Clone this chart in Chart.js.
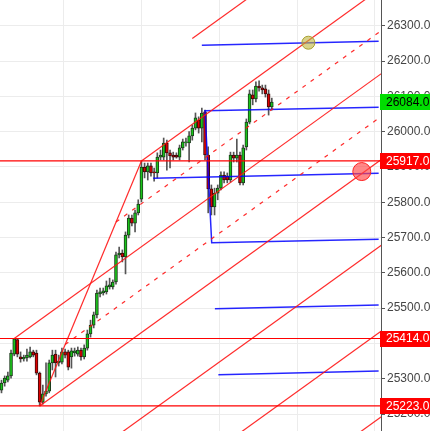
<!DOCTYPE html>
<html lang="en">
<head>
<meta charset="UTF-8" />
<title>Pitchfork chart</title>
<script src="https://cdn.jsdelivr.net/npm/chart.js"></script>
<style>
  body { margin: 0; background: #fff; }
  #wrap { width: 438px; height: 431px; }
</style>
</head>
<body>
<div id="wrap"><canvas id="chart" width="438" height="431"></canvas></div>
<script>
// candles, left to right (one per bar index)
const candleOpen = [25268,25288,25296,25308,25370,25411,25362,25356,25359,25362,25376,25373,25316,25234,25257,25265,25345,25370,25345,25347,
  25376,25376,25362,25373,25370,25381,25362,25387,25427,25452,25481,25540,25543,25546,25560,25560,25574,25651,25656,25645,
  25707,25755,25741,25770,25809,25900,25886,25903,25886,25883,25928,25928,25968,25940,25934,25934,25928,25954,25968,25968,
  25988,26010,26033,26010,26056,25934,25838,25787,25826,25840,25877,25874,25863,25934,25925,25934,25855,25957,26027,26104,
  26093,26129,26124,26121,26107,26070];
const candleHigh = [25296,25308,25319,25381,25414,25413,25376,25367,25384,25390,25381,25381,25319,25282,25345,25353,25381,25381,25367,25387,
  25384,25381,25387,25387,25390,25387,25396,25438,25466,25489,25551,25557,25557,25577,25585,25580,25659,25673,25665,25716,
  25764,25764,25778,25807,25917,25911,25911,25911,25897,25940,25948,25982,25976,25948,25942,25940,25962,25979,25982,26000,
  26019,26053,26042,26067,26061,25957,25849,25840,25849,25886,25886,25883,25942,25942,25979,25942,25962,26036,26118,26118,
  26141,26144,26132,26132,26118,26095];
const candleLow = [25260,25279,25291,25302,25365,25362,25347,25350,25350,25359,25362,25311,25223,25228,25251,25260,25325,25305,25336,25342,
  25359,25325,25330,25364,25364,25353,25356,25381,25418,25444,25472,25532,25537,25540,25554,25554,25568,25642,25631,25597,
  25699,25733,25716,25764,25801,25869,25863,25874,25860,25869,25920,25920,25891,25897,25920,25925,25920,25948,25959,25914,
  25976,26005,25996,25971,25920,25770,25764,25764,25807,25835,25855,25855,25857,25914,25914,25849,25849,25948,26022,26076,
  26084,26115,26107,26098,26047,26061];
const candleClose = [25288,25302,25308,25373,25413,25370,25356,25361,25367,25376,25367,25316,25234,25257,25265,25345,25367,25345,25350,25376,
  25367,25333,25379,25379,25381,25362,25387,25427,25452,25481,25543,25546,25549,25563,25566,25574,25651,25656,25645,25707,
  25755,25741,25770,25795,25900,25886,25903,25883,25883,25928,25934,25968,25940,25931,25928,25928,25954,25971,25971,25988,
  26010,26039,26010,26053,25934,25838,25787,25826,25840,25877,25863,25863,25934,25925,25934,25855,25954,26027,26107,26093,
  26129,26124,26118,26107,26070,26084];

const yTicks = [25200, 25300, 25400, 25500, 25600, 25700, 25800, 25900, 26000, 26100, 26200, 26300];
const xGrid = [7.4, 31.9, 56.4, 80.7, 105.2];
const xMin = -0.47, xMax = 119.34;
const yMin = 25152, yMax = 26373;

// horizontal levels and price tags on the axis
const levelPrices = [25917, 25414, 25223];
const tagPrices = [26084, 25917, 25414, 25223];
const tagColors = ['#00dd00', '#ff0000', '#ff0000', '#ff0000'];
const tagTextColors = ['#000000', '#ffffff', '#ffffff', '#ffffff'];

// pitchfork lines: [x1, y1, x2, y2]
const forkSolid = [
  [12, 25223, 44, 25917],
  [4, 25414, 120, 26168],
  [44, 25917, 120, 26411],
  [12, 25223, 120, 25925],
  [60, 26264, 120, 26654],
  [-1, 24896, 120, 25682],
  [-1, 24653, 120, 25439],
  [-1, 24410, 120, 25196]
];
const forkDashed = [
  [36, 25744, 120, 26290],
  [20, 25397, 120, 26047]
];
// blue lines, as point lists
const blueLines = [
  [[63.0, 26245], [118.6, 26256]],
  [[118.6, 26069], [64.0, 26059], [66.1, 25685], [118.6, 25695]],
  [[47.7, 25868], [118.6, 25882]],
  [[67.1, 25498], [118.6, 25509]],
  [[68.2, 25311], [118.6, 25322]]
];
const markerYellow = [96.5, 26252];
const markerRed = [113.3, 25887];

function lineSet(points, color, width, dash) {
  return {
    type: 'line',
    data: points.map(p => ({ x: p[0], y: p[1] })),
    borderColor: color,
    borderWidth: width,
    borderDash: dash || [],
    pointRadius: 0,
    fill: false,
    tension: 0,
    order: 2
  };
}

const up = candleOpen.map((o, i) => candleClose[i] >= o);

const datasets = [];
// wicks
datasets.push({
  type: 'bar',
  data: candleLow.map((l, i) => ({ x: i, y: [l, candleHigh[i]] })),
  backgroundColor: '#555555',
  borderWidth: 0,
  grouped: false,
  barPercentage: 1,
  categoryPercentage: 1,
  maxBarThickness: 1,
  order: 4
});
// bodies
datasets.push({
  type: 'bar',
  data: candleOpen.map((o, i) => ({ x: i, y: [o, candleClose[i]] })),
  backgroundColor: up.map(u => u ? '#19c419' : '#dd0000'),
  borderColor: up.map(u => u ? '#1c3a1c' : '#3a0a0a'),
  borderWidth: 1,
  borderSkipped: false,
  grouped: false,
  barPercentage: 1,
  categoryPercentage: 1,
  maxBarThickness: 3,
  order: 3
});

levelPrices.forEach(p => datasets.push(lineSet([[xMin - 1, p], [xMax + 1, p]], '#ff0000', 1.2)));
forkSolid.forEach(l => datasets.push(lineSet([[l[0], l[1]], [l[2], l[3]]], 'rgba(255,20,20,0.9)', 1.2)));
forkDashed.forEach(l => datasets.push(lineSet([[l[0], l[1]], [l[2], l[3]]], 'rgba(255,20,20,0.9)', 1.2, [4, 6])));
blueLines.forEach(l => datasets.push(lineSet(l, 'rgba(0,0,255,0.85)', 1.5)));

datasets.push({
  type: 'scatter',
  data: [{ x: markerYellow[0], y: markerYellow[1] }],
  pointRadius: 6.5,
  backgroundColor: 'rgba(190,180,60,0.6)',
  borderColor: '#a8a030',
  borderWidth: 1,
  order: 1
});
datasets.push({
  type: 'scatter',
  data: [{ x: markerRed[0], y: markerRed[1] }],
  pointRadius: 9,
  backgroundColor: 'rgba(255,70,70,0.65)',
  borderColor: '#ff2020',
  borderWidth: 1,
  order: 1
});

const tagPlugin = {
  id: 'priceTags',
  afterDraw(chart) {
    const ctx = chart.ctx;
    const ys = chart.scales.y;
    const left = chart.chartArea.right - 1;
    ctx.save();
    ctx.font = '12px "Liberation Sans", Arial, sans-serif';
    ctx.textBaseline = 'middle';
    tagPrices.forEach((p, i) => {
      const py = ys.getPixelForValue(p);
      ctx.fillStyle = tagColors[i];
      ctx.fillRect(left, Math.round(py) - 8, 50, 16);
      ctx.fillStyle = tagTextColors[i];
      ctx.fillText(p.toFixed(1), left + 6, py + 0.5);
    });
    ctx.restore();
  }
};

new Chart(document.getElementById('chart'), {
  type: 'bar',
  data: { datasets },
  plugins: [tagPlugin],
  options: {
    responsive: false,
    animation: false,
    events: [],
    layout: { padding: 0, autoPadding: false },
    plugins: { legend: { display: false }, tooltip: { enabled: false } },
    scales: {
      x: {
        type: 'linear',
        min: xMin,
        max: xMax,
        offset: false,
        afterBuildTicks: s => { s.ticks = xGrid.map(v => ({ value: v })); },
        afterFit: s => { s.height = 0; },
        grid: { color: '#ececec', drawTicks: false },
        border: { display: false },
        ticks: { display: false }
      },
      y: {
        position: 'right',
        min: yMin,
        max: yMax,
        afterBuildTicks: s => { s.ticks = yTicks.map(v => ({ value: v })); },
        afterFit: s => { s.width = 57; s.paddingTop = 0; s.paddingBottom = 0; },
        grid: { color: '#ececec', tickColor: '#555555', tickLength: 4 },
        border: { color: '#555555' },
        ticks: {
          color: '#444444',
          padding: 2,
          font: { family: '"Liberation Sans", Arial, sans-serif', size: 12 },
          callback: v => Number(v).toFixed(1)
        }
      }
    }
  }
});
</script>
</body>
</html>
